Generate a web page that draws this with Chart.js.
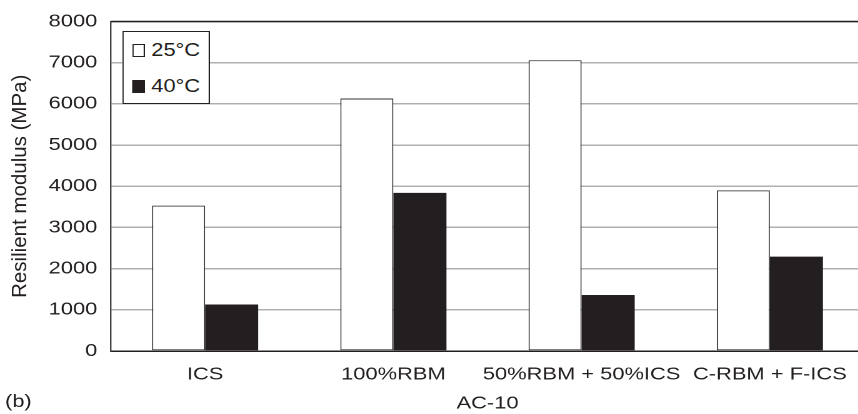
<!DOCTYPE html>
<html>
<head>
<meta charset="utf-8">
<script src="https://cdn.jsdelivr.net/npm/chart.js@4"></script>
<style>
  html, body { margin: 0; padding: 0; background: #fff; overflow: hidden; }
  /* el original tiene todo estirado en horizontal */
  #wrap { position: relative; width: 698px; height: 414px; transform: scaleX(1.25); transform-origin: 0 0; }
  #leyenda {
    position: absolute; left: 97.6px; top: 31px; width: 68.8px; height: 71px;
    border: 1px solid #231f20; background: #fff;
    font-family: "Liberation Sans", Arial, sans-serif; font-size: 17.5px; color: #231f20;
  }
  .item { position: absolute; left: 7px; height: 20px; line-height: 20px; }
  .caja { display: inline-block; width: 8.4px; height: 11px; border: 1px solid #231f20; vertical-align: -1px; margin-right: 5px; }
</style>
</head>
<body>
<div id="wrap">
  <canvas id="grafica" width="698" height="414"></canvas>
  <div id="leyenda">
    <div class="item" style="top:8px"><span class="caja" style="background:#fff"></span>25°C</div>
    <div class="item" style="top:44px"><span class="caja" style="background:#231f20"></span>40°C</div>
  </div>
</div>
<script>
const categorias = ["ICS", "100%RBM", "50%RBM + 50%ICS", "C-RBM + F-ICS"];
const series = ["25°C", "40°C"];
const valores25 = [3530, 6130, 7060, 3900];
const valores40 = [1130, 3840, 1360, 2290];
const ticksY = [0, 1000, 2000, 3000, 4000, 5000, 6000, 7000, 8000];
const tituloY = "Resilient modulus (MPa)";

const tinta = "#231f20";
const fuente = "'Liberation Sans', Arial, sans-serif";
const estirado = 1.25;

// borde superior, titulo del eje y (sin estirar) y etiqueta (b)
const extras = {
  id: "extras",
  afterDraw(chart) {
    const { ctx, chartArea } = chart;
    ctx.save();
    ctx.strokeStyle = tinta;
    ctx.lineWidth = 1.5;
    ctx.beginPath();
    ctx.moveTo(chartArea.left, chartArea.top);
    ctx.lineTo(chartArea.right, chartArea.top);
    ctx.stroke();
    ctx.fillStyle = tinta;
    ctx.font = "17.5px " + fuente;
    ctx.textBaseline = "middle";
    ctx.fillText("(b)", 4, 402);

    ctx.translate(16.4, (chartArea.top + chartArea.bottom) / 2);
    ctx.scale(1 / estirado, 1);
    ctx.rotate(-Math.PI / 2);
    ctx.font = "20.5px " + fuente;
    ctx.textAlign = "center";
    ctx.fillText(tituloY, 0, 0);
    ctx.restore();
  }
};

new Chart(document.getElementById("grafica"), {
  type: "bar",
  data: {
    labels: categorias,
    datasets: [
      { label: series[0], data: valores25, backgroundColor: "#fff", borderColor: "#333", borderWidth: 1, borderSkipped: false },
      { label: series[1], data: valores40, backgroundColor: tinta, borderColor: tinta, borderWidth: 0 }
    ]
  },
  options: {
    responsive: false,
    animation: false,
    devicePixelRatio: 2,
    layout: { padding: { top: 18, right: 6.8, left: 0, bottom: 0 } },
    datasets: { bar: { barPercentage: 1, categoryPercentage: 0.564 } },
    plugins: { legend: { display: false }, tooltip: { enabled: false } },
    scales: {
      x: {
        grid: { display: false },
        border: { color: tinta, width: 1.5 },
        ticks: { color: tinta, font: { size: 17.5, family: fuente }, padding: 5, maxRotation: 0, autoSkip: false },
        title: { display: true, text: "AC-10", color: tinta, font: { size: 17.5, family: fuente }, padding: { top: 0, bottom: 0 } },
        afterFit(s) { s.height = 63; }
      },
      y: {
        min: 0, max: 8000,
        afterBuildTicks(s) { s.ticks = ticksY.map(v => ({ value: v })); },
        grid: { color: "#b0b0b0", lineWidth: 1.5, drawTicks: false },
        border: { color: "#444", width: 1.2 },
        ticks: { color: tinta, font: { size: 17.5, family: fuente }, padding: 11, callback: v => String(v) },
        afterFit(s) { s.width = 88.8; }
      }
    }
  },
  plugins: [extras]
});
</script>
</body>
</html>
